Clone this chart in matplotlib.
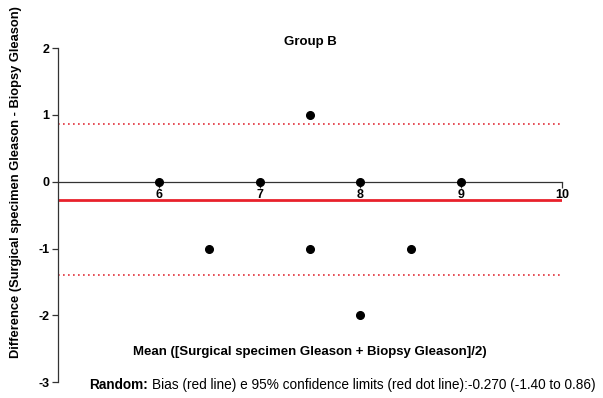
import matplotlib.pyplot as plt

plt.rcParams['font.family'] = ['Liberation Sans', 'DejaVu Sans']
plt.rcParams['axes.unicode_minus'] = False

# Bland-Altman data (Group B)
mean_vals = [6, 7, 7.5, 8, 9, 6.5, 7.5, 8.5, 8]
diff_vals = [0, 0, 1, 0, 0, -1, -1, -1, -2]
bias = -0.270
lower_limit = -1.40
upper_limit = 0.86
x_ticks = [6, 7, 8, 9, 10]
y_ticks = [-3, -2, -1, 0, 1, 2]

fig = plt.figure(figsize=(6.03, 3.98), dpi=100)
ax = fig.add_axes([0.096, 0.040, 0.836, 0.839])

ax.axhline(bias, color='#e8212b', lw=2.0, zorder=2)
ax.axhline(upper_limit, color='#e0303a', lw=1.2, ls=(0, (1, 2)), zorder=2)
ax.axhline(lower_limit, color='#e0303a', lw=1.2, ls=(0, (1, 2)), zorder=2)

ax.plot(mean_vals, diff_vals, 'o', color='black', ms=5.5, zorder=3,
        clip_on=False)

ax.set_xlim(5, 10)
ax.set_ylim(-3, 2)
ax.set_xticks(x_ticks)
ax.set_yticks(y_ticks)

ax.spines['top'].set_visible(False)
ax.spines['right'].set_visible(False)
ax.spines['bottom'].set_position(('data', 0))
for s in ('left', 'bottom'):
    ax.spines[s].set_color('#333333')
    ax.spines[s].set_linewidth(0.9)

ax.tick_params(axis='x', length=4, width=0.9, color='#333333', pad=1,
               labelsize=9)
ax.tick_params(axis='y', length=4, width=0.9, color='#333333', pad=2,
               labelsize=9)
for lab in ax.get_xticklabels() + ax.get_yticklabels():
    lab.set_fontweight('bold')

ax.set_ylabel('Difference (Surgical specimen Gleason - Biopsy Gleason)',
              fontsize=9.3, fontweight='bold')
ax.yaxis.set_label_coords(-0.071, 0.6)

fig.text(0.514, 0.895, 'Group B', ha='center', va='center',
         fontsize=9.5, fontweight='bold')
fig.text(0.514, 0.116, 'Mean ([Surgical specimen Gleason + Biopsy Gleason]/2)',
         ha='center', va='center', fontsize=9.5, fontweight='bold')

t1 = fig.text(0.148, 0.033, 'Random:', ha='left', va='center',
              fontsize=9.8, fontweight='bold')
fig.canvas.draw()
bb = t1.get_window_extent().transformed(fig.transFigure.inverted())
fig.text(bb.x1 + 0.006, 0.033,
         'Bias (red line) e 95% confidence limits (red dot line):-0.270 (-1.40 to 0.86)',
         ha='left', va='center', fontsize=9.8)

fig.savefig('out.png', dpi=100)
